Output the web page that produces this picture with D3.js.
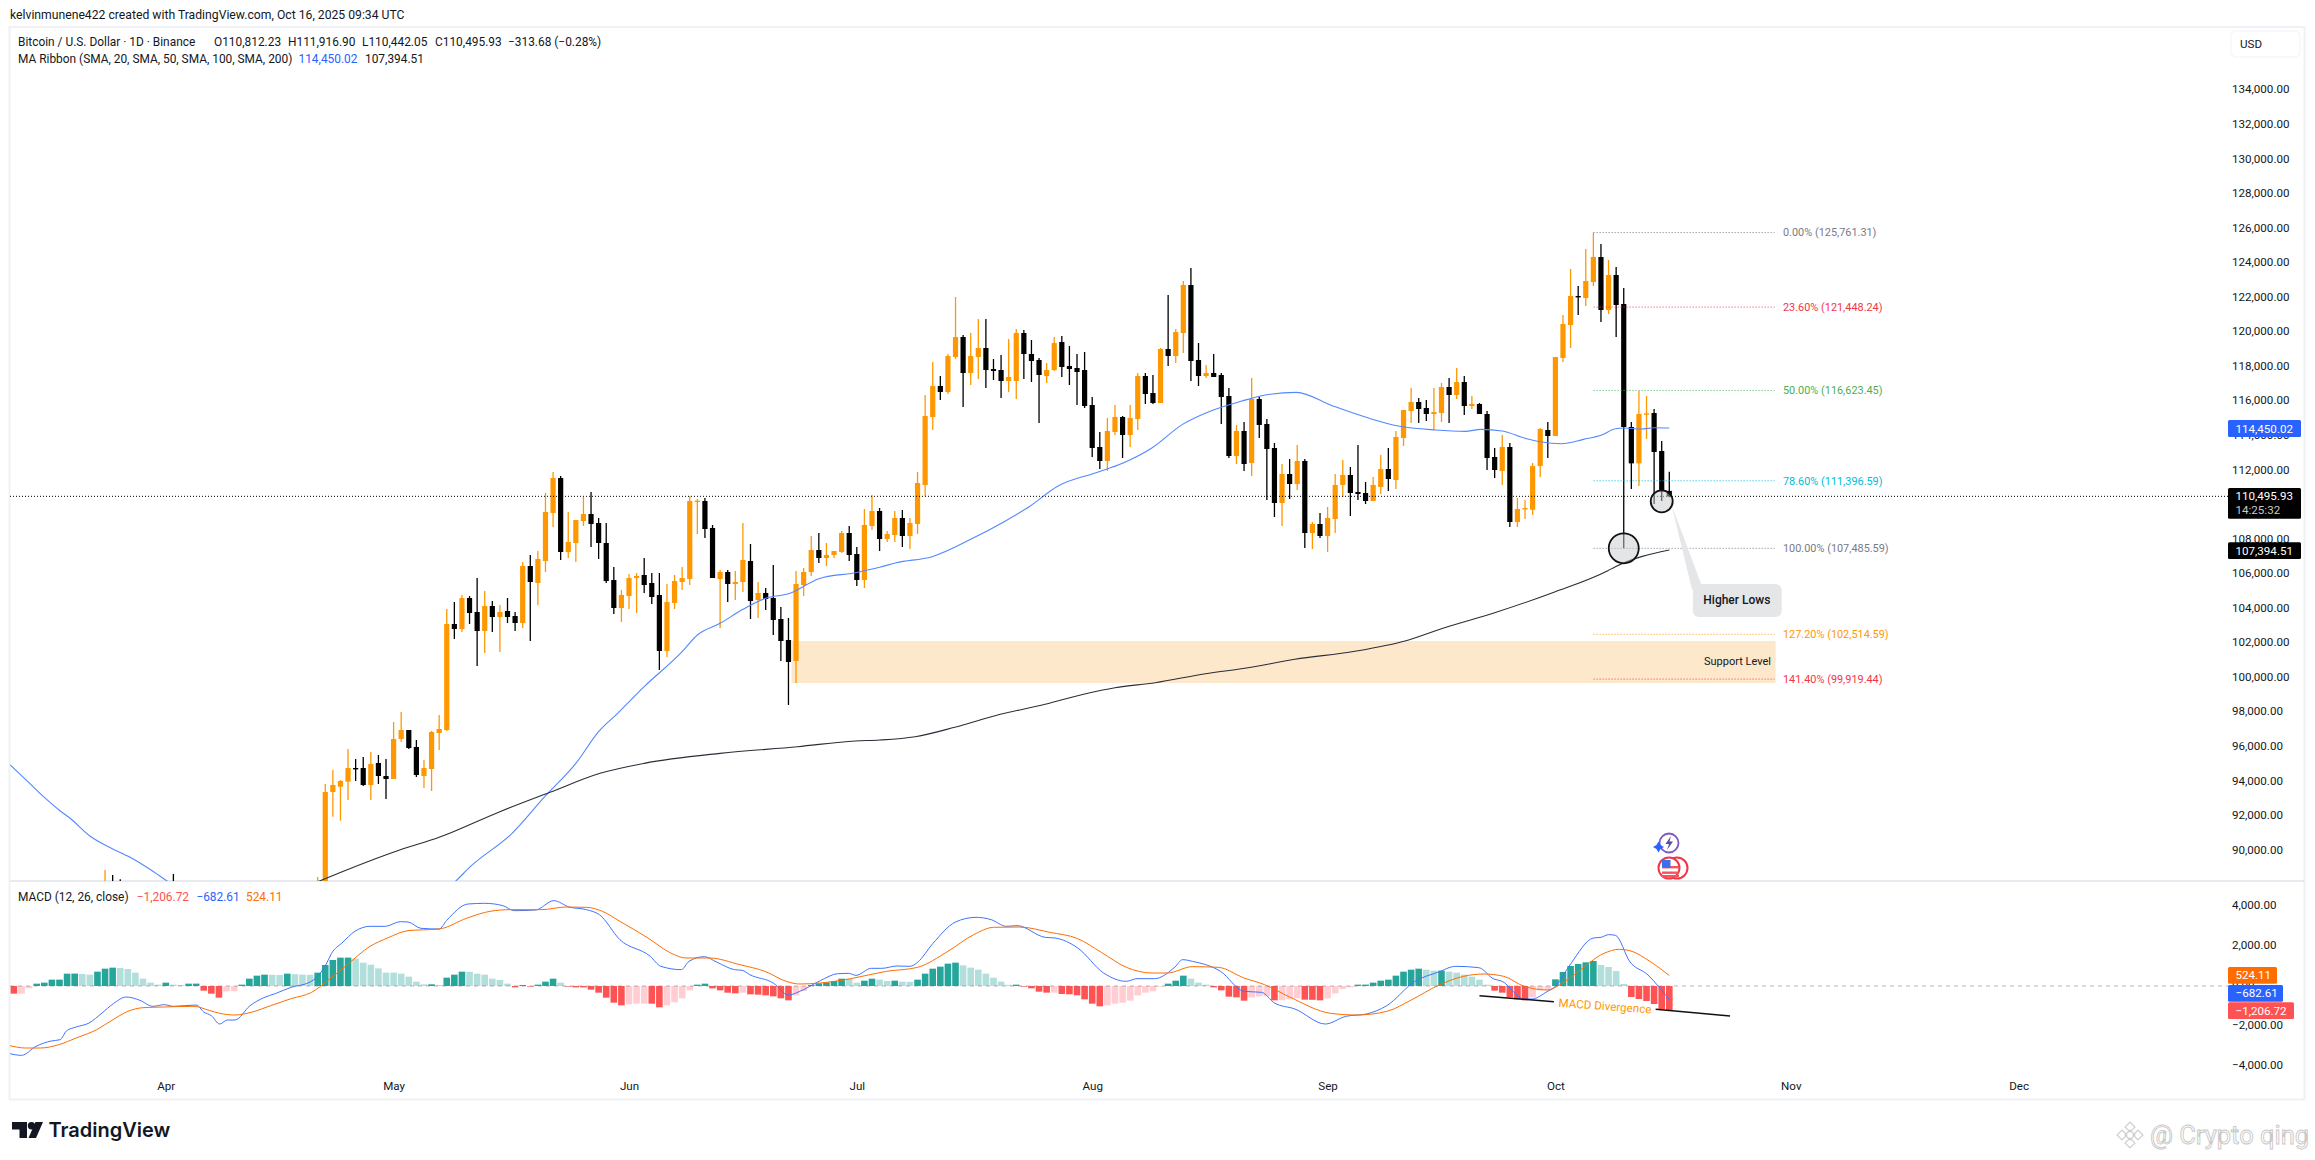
<!DOCTYPE html>
<html>
<head>
<meta charset="utf-8">
<style>
  body { margin: 0; background: #fff; }
  text { font-family: Roboto, sans-serif; fill: #131722; }
</style>
</head>
<body>
<div id="chart"></div>
<script src="https://d3js.org/d3.v7.min.js"></script>
<script>
// Daily candles, 21 Apr to 16 Oct 2025
var candleStart = "2025-04-21";
var opens = [
  85170,87500,93385,93694,93983,94774,94774,93790,95063,94311,
  94137,96452,96973,95989,94311,94716,96800,96973,103108,102818,104612,103802,102702,104149,103512,103860,103570,103165,106464,105480,106753,109531,111556,107274,107795,109068,109473,108952,107795,105654,104033,
  104728,105770,105943,105480,104786,101545,104323,105538,105712,110187,110225,108663,105712,106117,105422,105538,106753,104496,104902,104612,103397,102182,100966,105364,106117,107390,106927,107100,107274,108374,
  107158,105654,108779,109647,108026,108258,109242,108200,108895,111152,115087,116881,116534,118559,119717,117633,118559,119080,117865,117807,117170,117170,119948,118733,118386,117460,117807,119427,118038,117923,117807,
  115781,113351,112541,114219,115087,114045,114971,117460,116476,115897,119022,118617,119948,122726,118386,117460,117633,117518,116302,112830,114277,112425,116128,114682,113293,110110,111788,111209,112541,108374,108895,
  108200,109184,111152,111731,110747,110689,110226,111036,112078,111441,113872,115434,115955,115608,115261,115318,116823,116360,117112,115723,115839,115261,112772,111962,113351,109011,109744,109724,112251,114334,
  113987,118501,120411,122089,121973,122899,124346,121279,123304,121626,114508,112404,115222,115318,113119,110812.23
];
var highs = [
  88470,93848,94658,94079,95874,95295,95411,95700,95526,95295,
  97436,98015,96973,96395,95237,96915,97841,103975,104381,104786,104728,105770,105017,104438,104207,104612,103802,106695,107100,107332,110689,111904,111672,109589,109126,110457,110746,109242,108952,106406,105075,
  106001,106059,106927,106059,106059,105422,105943,106406,110515,110341,110399,108837,106232,106232,106175,108952,107737,105538,105191,106522,104091,103455,106175,106348,108200,108374,107795,107332,108489,108779,
  107563,109763,110573,109821,108489,109647,109705,109242,111904,116360,118270,117460,118733,122031,119832,119948,120758,120758,118443,118675,119601,120180,120122,119543,118501,118212,119717,119774,119196,118733,118848,
  116244,114219,115029,115781,115145,115781,117633,117633,117518,119080,122147,120180,122957,123710,119369,118096,118733,117633,116765,114624,114798,117344,116244,114971,113582,112367,112656,113466,112656,109011,109531,
  109879,111788,112599,112193,113466,111325,111615,112888,113293,114277,115492,116765,116187,116071,116765,117057,117344,117923,117460,116302,115897,115434,113293,114045,113582,110400,110284,112425,114450,114797,
  118559,120989,123651,122668,124809,125761.31,125098,124172,123767,122552,114797,116591,116302,115549,113697,111916.9
];
var lows = [
  85140,87100,91958,91726,92922,94022,93732,92922,93848,92980,
  94137,96279,95873,94254,93617,93443,95816,96915,102240,102644,103108,100677,101429,102644,101487,103165,102702,102876,102124,104207,106117,108721,106811,106927,106695,108779,107563,106869,105480,103686,103223,
  103975,103744,104902,104265,100446,101197,103975,105075,105364,108316,108084,105770,102876,104381,104496,104959,103397,103455,103918,102471,100966,98420,99693,104728,105885,106637,106464,106927,107216,106753,
  105306,105191,108547,107332,107853,107853,107564,107448,108316,110496,114335,116071,116418,118443,115666,116939,117286,116765,117228,116187,116534,116128,117286,117112,114740,117055,117749,117402,116939,115781,115608,
  112772,112078,111962,114045,112714,113351,114335,115839,115839,115897,118038,118212,118791,117170,116881,117344,117402,114682,112714,112367,111962,111673,113872,110284,109300,108779,110342,110862,107506,107448,108085,
  107275,108374,110457,109358,110284,110052,110226,110631,110804,110920,113409,114740,114740,114855,114335,114798,114740,116128,115203,115550,115261,112020,111557,111152,108721,108721,109184,109415,111614,112714,
  113987,118269,119080,120989,121510,122668,120584,121047,119716,107485.59,110920,111093,113813,110052,110226,110442.05
];
var closes = [
  87500,93385,93790,94022,94774,94736,93790,95005,94311,94137,
  96452,96973,95931,94369,94774,96857,97031,103108,102818,104612,103744,102702,104149,103512,103802,103512,103165,106464,105538,106869,109589,111556,107274,107853,109126,109473,108894,107795,105596,104033,104786,
  105770,105885,105364,104670,101545,104381,105596,105770,110225,110245,108605,105770,106117,105422,105538,106811,104438,104902,104554,103339,102124,100908,105422,106117,107390,106927,107100,107332,108374,107100,
  105654,108837,109647,108026,108316,109242,108200,108953,111267,115145,116881,116534,118617,119717,117633,118617,119080,117807,117749,117170,117402,119948,118733,118328,117518,117807,119369,117980,117865,117691,115723,
  113293,112541,114277,115087,114045,115029,117460,116418,115897,119022,118617,120006,122726,118328,117460,117633,117402,116244,112830,114277,112367,116128,114624,113235,110110,111788,111209,112541,108374,108895,108200,
  109242,111152,111731,110689,110631,110226,111152,112078,111499,113930,115492,115955,115550,115261,115376,116823,116360,117112,115723,115839,115261,112714,112020,113351,109011,109763,109821,112251,114392,113987,
  118559,120468,122089,122031,122957,124346,121279,123304,121568,114508,112404,115260,115299,113061,110804,110495.93
];

// The few March/April candles whose wicks just poke into the bottom of the pane
var earlyDates = ["2025-03-24", "2025-03-25", "2025-03-26", "2025-04-02"];
var earlyOpens = [86000, 87300, 87200, 85100];
var earlyHighs = [88871, 88582, 88333, 88640];
var earlyLows = [85500, 86300, 86300, 82300];
var earlyCloses = [87300, 87200, 86900, 82500];

// Moving averages: days counted from 1 Apr, values in USD
var ma50Days = [-20.5,-18.3,-16.1,-13.9,-12.6,-10,-7.3,-4.7,-2.1,0.1,10,20,30,38.1,40.1,45.6,49.9,54,57,59.5,63,68,70,73,76,79,82.2,86,90.8,94,96.2,100.9,106,110.4,113.7,117.5,122.5,126,129.8,133.9,137.7,141.6,144.8,148.9,153.6,158.5,162.3,167.2,171.1,173.2,176,179.2,181,183.8,186.7,189.1,190.9,192,194.3,196,198];
var ma50Values = [94948,94039,93113,92286,91863,90839,90162,89606,88912,88252,85500,84800,86000,88196,89064,90993,93115,95044,96877,97938,99481,101506,102471,103146,103956,104593,104882,105731,106078,106387,106657,107005,108008,109030,109898,111094,111866,112406,113274,114662,115454,115994,116360,116515,115743,115010,114566,114335,114257,114373,114277,113833,113659,113543,113794,114045,114411,114450,114392,114469,114450.02];
var ma200Days = [19.5,22.9,30.8,36,44,50.6,57.2,63,73,83.2,90.8,94,98.7,103.9,109.9,115.8,121,125,130.3,136.9,142.1,148.7,156.6,163.2,168.4,175,182.9,189.9,190.9,198];
var ma200Values = [88100,88715,90029,90762,92247,93366,94466,95044,95623,96008,96337,96395,96586,97130,97882,98460,99057,99421,99711,100231,100544,101065,101528,102124,102894,103762,104959,106192,106424,107394.51];

// Fib levels
var fibLabels = ["0.00%", "23.60%", "50.00%", "78.60%", "100.00%", "127.20%", "141.40%"];
var fibValues = [125761.31, 121448.24, 116623.45, 111396.59, 107485.59, 102514.59, 99919.44];
var fibColors = ["#787b86", "#f23645", "#4caf50", "#00bcd4", "#787b86", "#ff9800", "#f23645"];

// MACD histogram, one bar per day from 12 Mar
var histStart = "2025-03-12";
var histValues = [
  -383,-380,-117,117,167,317,320,617,620,600,567,717,867,917,900,850,667,367,167,67,
  167,67,50,117,120,-233,-383,-583,-267,-260,67,367,517,567,560,550,617,590,570,560,667,1050,1300,1417,1420,1367,1167,1067,883,670,
  667,617,467,217,83,85,50,417,567,717,710,617,567,367,300,117,-67,50,-33,67,217,367,167,-33,-67,-70,-183,-333,-583,-833,-967,
  -917,-883,-880,-883,-1067,-967,-817,-617,-217,67,117,-117,-217,-333,-367,-333,-417,-433,-467,-517,-617,-717,-467,-250,50,133,183,250,367,360,
  167,267,367,317,250,267,217,210,317,617,867,967,1117,1167,1033,917,817,617,417,217,60,67,-33,-117,-283,-333,-330,-400,-417,-467,-667,
  -883,-1017,-967,-883,-833,-733,-467,-333,-267,-33,117,267,517,367,167,67,-67,-217,-533,-567,-733,-567,-517,-510,-717,-715,-667,-617,-683,-690,-717,
  -617,-367,-150,-67,67,70,167,267,317,517,717,817,867,817,767,770,717,667,567,467,317,67,-233,-333,-567,-667,-717,-567,-217,-210,
  333,700,1000,1100,1183,1250,1050,950,750,100,-550,-650,-750,-900,-1167,-1206.72
];
var macdDays = [-20.5,-19,-17.1,-15.1,-13.9,-13.1,-11.8,-10.1,-8.4,-6.9,-5.2,-3.4,-1.7,-0.2,1,4,5,6,7.1,8.1,9.1,11.1,12.9,14.4,16.5,19,20,21.2,21.8,23.2,24.9,26.9,28.9,30.9,31.9,33.6,36,37,39.8,42,44.4,45.9,48.7,51.1,53.1,55.4,57.1,59.8,63.8,65.2,67.9,68.9,70.9,72.6,74.9,75.9,76.9,80,82,83.5,86.2,88.5,89.9,90.9,92.9,94.3,96.3,98,99,101,104,106.7,108.7,110.7,112.1,115.8,117.1,120.1,123.5,126.5,127.9,130.2,132.9,133.9,135.2,138.9,142,144.3,146,148.7,152.7,155.4,158.1,160.8,164.5,167.5,169.9,172.9,174.9,175.9,178.9,179.9,181.9,183,185,188,189,190,190.9,192.8,195.2,196.6,198];
var macdValues = [-3384,-3467,-3017,-2750,-2684,-2250,-2050,-1850,-1350,-883,-550,-717,-1017,-933,-1017,-950,-1300,-1484,-1900,-1700,-1700,-983,-583,-383,-67,200,483,1150,1617,2150,2734,2984,2984,3217,3200,2884,2850,3284,4100,4134,4017,3767,3800,4268,3950,3817,3567,2317,1484,984,817,1234,1467,1184,817,784,567,150,-450,-267,267,617,633,533,884,884,1000,984,1184,2117,3200,3434,3317,2984,3017,2434,2400,1900,650,233,367,367,950,1317,1234,733,-267,-317,-850,-1150,-1900,-1517,-1400,-983,233,683,984,917,350,250,-650,-650,-283,-17,1100,2400,2434,2567,2534,1217,550,-33,-682.61];
var signalDays = [-20.5,-18.5,-16.5,-14.1,-11.8,-9.1,-7.1,-5,-3,-0.3,3.7,5.7,7.1,9.1,11.4,13.8,16.5,19.2,21.2,23.9,26.9,29.2,31.9,36,39.7,42.7,45.4,49.4,52.8,55.4,57.5,59.8,63.5,66.5,68.5,71.6,75.6,79,81.7,83.5,86.2,90.2,94.9,99,103,106.4,109,112.4,116.4,120.1,123.2,126.5,129.9,131.9,135.2,138.6,142,144.7,148,153.4,156.8,160.8,164.1,167.5,170.9,173.6,176.2,178.9,182,183.6,186,189.4,191.4,192.8,195.5,198];
var signalValues = [-2984,-3100,-3100,-2934,-2600,-2184,-1717,-1267,-1084,-1050,-1017,-1217,-1367,-1450,-1300,-983,-633,-317,233,1067,1984,2400,2767,2850,3400,3734,3817,3817,3950,3934,3734,3234,2400,1650,1400,1400,1067,717,233,100,150,367,733,933,1734,2567,2934,2950,2684,2367,1684,933,650,650,967,933,400,67,-550,-1367,-1450,-1267,-683,17,483,600,483,-17,-200,67,717,1634,1834,1767,1217,524.11];

// Axis ticks
var priceTicks = d3.range(90000, 134001, 2000);
var macdTicks = [4000, 2000, 0, -2000, -4000];
var monthTicks = ["2025-04-01", "2025-05-01", "2025-06-01", "2025-07-01", "2025-08-01", "2025-09-01", "2025-10-01", "2025-11-01", "2025-12-01"];

var orange = "#ff9800";
var blue = "#2962ff";
var macdOrange = "#ff6d00";
var macdRed = "#ff5252";

var svgWidth = 2315;
var svgHeight = 1160;
var axisLeftEdge = 2228;
var paneLeft = 10;
var paneTop = 27;
var paneSplit = 881;
var paneBottom = 1068;

var parseDay = d3.utcParse("%Y-%m-%d");
var apr1 = parseDay("2025-04-01");

// Scales
var xScale = d3.scaleUtc()
  .domain([apr1, parseDay("2025-10-16")])
  .range([165.8, 1669.3]);
var yPrice = d3.scaleLinear()
  .domain([100000, 134000])
  .range([677.7, 90.2]);
var yMacd = d3.scaleLinear()
  .domain([0, 4000])
  .range([986, 906]);

// x position of a (possibly fractional) day count from 1 Apr
function dayX(d) {
  return xScale(new Date(apr1.getTime() + d * 864e5));
}

var fmtPrice = d3.format(",.2f");
function money(v) {
  return fmtPrice(v).replace("-", "\u2212");
}

var svg = d3.select("#chart")
  .append("svg")
  .attr("width", svgWidth)
  .attr("height", svgHeight);

var defs = svg.append("defs");
defs.append("clipPath").attr("id", "clipMain").append("rect")
  .attr("x", paneLeft).attr("y", paneTop)
  .attr("width", axisLeftEdge - paneLeft).attr("height", paneSplit - paneTop);
defs.append("clipPath").attr("id", "clipMacd").append("rect")
  .attr("x", paneLeft).attr("y", paneSplit)
  .attr("width", axisLeftEdge - paneLeft).attr("height", paneBottom - paneSplit);

// Frame
svg.append("rect")
  .attr("x", 9.5).attr("y", 27)
  .attr("width", 2295).attr("height", 1072.5)
  .attr("fill", "#fff").attr("stroke", "#f0f1f4").attr("stroke-width", 2);
svg.append("line")
  .attr("x1", paneLeft).attr("x2", 2304)
  .attr("y1", paneSplit).attr("y2", paneSplit)
  .attr("stroke", "#e0e3eb").attr("stroke-width", 1.5);

// Top note
svg.append("text").attr("x", 10).attr("y", 19).attr("font-size", 12.2)
  .text("kelvinmunene422 created with TradingView.com, Oct 16, 2025 09:34 UTC");

var main = svg.append("g").attr("clip-path", "url(#clipMain)");

// Support zone
main.append("rect")
  .attr("x", dayX(82.4))
  .attr("width", dayX(212.0) - dayX(82.4))
  .attr("y", yPrice(102124))
  .attr("height", yPrice(99693) - yPrice(102124))
  .attr("fill", "#fde8cc");

// Fib levels
var fibG = svg.append("g");
fibValues.forEach(function(v, i) {
  fibG.append("line")
    .attr("x1", 1593.6).attr("x2", 1774.4)
    .attr("y1", yPrice(v)).attr("y2", yPrice(v))
    .attr("stroke", fibColors[i])
    .attr("stroke-dasharray", "1 2");
  fibG.append("text")
    .attr("x", 1783).attr("y", yPrice(v)).attr("dy", "0.35em")
    .attr("font-size", 10.9)
    .style("fill", fibColors[i])
    .text(fibLabels[i] + " (" + fmtPrice(v) + ")");
});

// Last price line
var lastClose = closes[closes.length - 1];
svg.append("line")
  .attr("x1", paneLeft).attr("x2", axisLeftEdge)
  .attr("y1", yPrice(lastClose)).attr("y2", yPrice(lastClose))
  .attr("stroke", "#000").attr("stroke-dasharray", "1 2");

// Candles
var candles = opens.map(function(o, i) {
  return {
    date: d3.utcDay.offset(parseDay(candleStart), i),
    open: o, high: highs[i], low: lows[i], close: closes[i]
  };
});
var earlyCandles = earlyDates.map(function(d, i) {
  return {
    date: parseDay(d),
    open: earlyOpens[i], high: earlyHighs[i], low: earlyLows[i], close: earlyCloses[i]
  };
});
var allCandles = earlyCandles.concat(candles);

function candleColor(d) {
  return d.close >= d.open ? orange : "#000";
}

main.selectAll(".wick")
  .data(allCandles)
  .enter()
  .append("line")
  .attr("class", "wick")
  .attr("x1", d => xScale(d.date))
  .attr("x2", d => xScale(d.date))
  .attr("y1", d => yPrice(d.high))
  .attr("y2", d => yPrice(d.low))
  .attr("stroke", candleColor)
  .attr("stroke-width", 1.3);

main.selectAll(".body")
  .data(allCandles)
  .enter()
  .append("rect")
  .attr("class", "body")
  .attr("x", d => xScale(d.date) - 2.6)
  .attr("width", 5.2)
  .attr("y", d => yPrice(Math.max(d.open, d.close)))
  .attr("height", d => Math.max(1.4, Math.abs(yPrice(d.open) - yPrice(d.close))))
  .attr("fill", candleColor);

// Moving averages
function pairLine(yScale) {
  return d3.line()
    .x(d => dayX(d[0]))
    .y(d => yScale(d[1]))
    .curve(d3.curveMonotoneX);
}

main.append("path")
  .attr("d", pairLine(yPrice)(d3.zip(ma50Days, ma50Values)))
  .attr("fill", "none").attr("stroke", "#5487ff").attr("stroke-width", 1.1);
main.append("path")
  .attr("d", pairLine(yPrice)(d3.zip(ma200Days, ma200Values)))
  .attr("fill", "none").attr("stroke", "#2a2e39").attr("stroke-width", 1.1);

// Annotations, placed in chart values
var bigCircle = { day: 192, price: 107488, r: 15 };
var smallCircle = { day: 197, price: 110208, r: 11 };

svg.append("path")
  .attr("d", d3.line()([
    [dayX(198.3), yPrice(109994)],
    [dayX(202.2), yPrice(105422)],
    [dayX(201), yPrice(105075)]
  ]) + "Z")
  .attr("fill", "#e4e6e8");

[bigCircle, smallCircle].forEach(function(c) {
  svg.append("circle")
    .attr("cx", dayX(c.day))
    .attr("cy", yPrice(c.price))
    .attr("r", c.r)
    .attr("fill", "#c8ccd0")
    .attr("fill-opacity", 0.5)
    .attr("stroke", "#111")
    .attr("stroke-width", 1.8);
});

svg.append("rect")
  .attr("x", dayX(201.1))
  .attr("width", dayX(212.8) - dayX(201.1))
  .attr("y", yPrice(105422))
  .attr("height", yPrice(103513) - yPrice(105422))
  .attr("rx", 6)
  .attr("fill", "#e4e6e8");
svg.append("text")
  .attr("x", dayX(206.9)).attr("y", yPrice(104480)).attr("dy", "0.35em")
  .attr("text-anchor", "middle").attr("font-size", 12).attr("font-weight", 500)
  .text("Higher Lows");

svg.append("text")
  .attr("x", 1771).attr("y", 661).attr("dy", "0.35em")
  .attr("text-anchor", "end").attr("font-size", 11)
  .text("Support Level");

// Event icons above the pane split
var icons = svg.append("g");
icons.append("circle").attr("cx", 1669).attr("cy", 843).attr("r", 9.5)
  .attr("fill", "#fff").attr("stroke", "#7e57c2").attr("stroke-width", 1.8);
icons.append("path").attr("d", "M1671,836 L1665.5,844 L1669,844 L1667,850 L1673,841.5 L1669.5,841.5 Z")
  .attr("fill", "#5c4a9a");
icons.append("path").attr("d", "M1658.5,841.5 L1660.5,845 L1664,847 L1660.5,849 L1658.5,852.5 L1656.5,849 L1653,847 L1656.5,845 Z")
  .attr("fill", "#2962ff");
icons.append("circle").attr("cx", 1677).attr("cy", 868).attr("r", 10.5)
  .attr("fill", "#fff").attr("stroke", "#f23645").attr("stroke-width", 2);
icons.append("circle").attr("cx", 1669).attr("cy", 868).attr("r", 10.5)
  .attr("fill", "#fff").attr("stroke", "#f23645").attr("stroke-width", 2);
icons.selectAll(".stripe").data([866, 871.5, 875])
  .enter().append("rect").attr("class", "stripe")
  .attr("x", 1662).attr("y", d => d).attr("width", 17).attr("height", 2.4)
  .attr("fill", "#f2555f");
icons.append("rect").attr("x", 1662).attr("y", 860).attr("width", 8.5).attr("height", 8)
  .attr("fill", "#3f6fe8");

// Legends
var legendFont = 11.9;
svg.append("text").attr("x", 18).attr("y", 46).attr("font-size", legendFont)
  .text("Bitcoin / U.S. Dollar \u00b7 1D \u00b7 Binance");
var ohlcLegend = ["O110,812.23", "H111,916.90", "L110,442.05", "C110,495.93", "\u2212313.68 (\u22120.28%)"];
var ohlcLegendX = [214, 288, 362, 435, 508];
ohlcLegend.forEach(function(t, i) {
  svg.append("text").attr("x", ohlcLegendX[i]).attr("y", 46).attr("font-size", legendFont).text(t);
});
svg.append("text").attr("x", 18).attr("y", 63).attr("font-size", legendFont)
  .text("MA Ribbon (SMA, 20, SMA, 50, SMA, 100, SMA, 200)");
svg.append("text").attr("x", 298.5).attr("y", 63).attr("font-size", legendFont)
  .style("fill", blue).text("114,450.02");
svg.append("text").attr("x", 365).attr("y", 63).attr("font-size", legendFont)
  .text("107,394.51");

svg.append("text").attr("x", 18).attr("y", 900.5).attr("font-size", legendFont)
  .text("MACD (12, 26, close)");
svg.append("text").attr("x", 136.7).attr("y", 900.5).attr("font-size", legendFont)
  .style("fill", macdRed).text("\u22121,206.72");
svg.append("text").attr("x", 196.4).attr("y", 900.5).attr("font-size", legendFont)
  .style("fill", blue).text("\u2212682.61");
svg.append("text").attr("x", 246).attr("y", 900.5).attr("font-size", legendFont)
  .style("fill", macdOrange).text("524.11");

// MACD pane
var macdPane = svg.append("g").attr("clip-path", "url(#clipMacd)");

macdPane.selectAll(".hist")
  .data(histValues)
  .enter()
  .append("rect")
  .attr("class", "hist")
  .attr("x", (d, i) => xScale(d3.utcDay.offset(parseDay(histStart), i)) - 3.3)
  .attr("width", 6.6)
  .attr("y", d => Math.min(yMacd(d), yMacd(0)))
  .attr("height", d => Math.abs(yMacd(d) - yMacd(0)))
  .attr("fill", function(d, i) {
    var prev = i > 0 ? histValues[i - 1] : d + 1;
    if (d >= 0) return d >= prev ? "#26a69a" : "#b2dfdb";
    return d < prev ? "#ff5252" : "#ffcdd2";
  });

svg.append("line")
  .attr("x1", paneLeft).attr("x2", axisLeftEdge)
  .attr("y1", yMacd(0)).attr("y2", yMacd(0))
  .attr("stroke", "#787b86").attr("stroke-opacity", 0.55)
  .attr("stroke-dasharray", "4 4");

macdPane.append("path")
  .attr("d", pairLine(yMacd)(d3.zip(macdDays, macdValues)))
  .attr("fill", "none").attr("stroke", "#3f74ff").attr("stroke-width", 1);
macdPane.append("path")
  .attr("d", pairLine(yMacd)(d3.zip(signalDays, signalValues)))
  .attr("fill", "none").attr("stroke", macdOrange).attr("stroke-width", 1);

// Divergence trend line, broken around its label
var trendSegments = [
  [[173, -485], [182.8, -785]],
  [[196.2, -1165], [206, -1500]]
];
trendSegments.forEach(function(s) {
  svg.append("line")
    .attr("x1", dayX(s[0][0])).attr("y1", yMacd(s[0][1]))
    .attr("x2", dayX(s[1][0])).attr("y2", yMacd(s[1][1]))
    .attr("stroke", "#111").attr("stroke-width", 1.4);
});
svg.append("text")
  .attr("transform", "translate(1605,1006) rotate(4.2)")
  .attr("dy", "0.35em").attr("text-anchor", "middle").attr("font-size", 11.6)
  .style("fill", orange)
  .text("MACD Divergence");

// Axes
var priceAxis = d3.axisRight(yPrice)
  .tickValues(priceTicks)
  .tickFormat(fmtPrice)
  .tickSize(0);
var gPrice = svg.append("g")
  .attr("transform", "translate(2229,-1)")
  .call(priceAxis);
var macdAxis = d3.axisRight(yMacd)
  .tickValues(macdTicks)
  .tickFormat(money)
  .tickSize(0);
var gMacd = svg.append("g")
  .attr("transform", "translate(2229,-1)")
  .call(macdAxis);
var timeAxis = d3.axisBottom(xScale)
  .tickValues(monthTicks.map(parseDay))
  .tickFormat(d3.utcFormat("%b"))
  .tickSize(0);
var gTime = svg.append("g")
  .attr("transform", "translate(0,1078.5)")
  .call(timeAxis);
[gPrice, gMacd, gTime].forEach(function(g) {
  g.select(".domain").remove();
  g.selectAll("text")
    .attr("font-family", "Roboto, sans-serif")
    .attr("font-size", 11.6)
    .style("fill", "#131722");
});

// USD box
svg.append("rect")
  .attr("x", 2231).attr("y", 31).attr("width", 69).attr("height", 26).attr("rx", 5)
  .attr("fill", "#fff").attr("stroke", "#f0f3fa");
svg.append("text").attr("x", 2240).attr("y", 44).attr("dy", "0.35em").attr("font-size", 11.6).text("USD");

// Price tags on the axis
var tags = [
  { text: fmtPrice(114450.02), fill: blue, color: "#fff", y0: 420, y1: 437, w: 73 },
  { text: fmtPrice(lastClose), fill: "#000", color: "#fff", y0: 488, y1: 518.7, w: 73, sub: "14:25:32", single: 496 },
  { text: fmtPrice(107394.51), fill: "#000", color: "#fff", y0: 542.3, y1: 559, w: 73 },
  { text: "524.11", fill: macdOrange, color: "#fff", y0: 967, y1: 983.7, w: 49 },
  { text: money(-682.61), fill: blue, color: "#fff", y0: 985, y1: 1001.7, w: 55 },
  { text: money(-1206.72), fill: macdRed, color: "#fff", y0: 1002.3, y1: 1019, w: 66 }
];
tags.forEach(function(t) {
  svg.append("rect")
    .attr("x", axisLeftEdge).attr("y", t.y0)
    .attr("width", t.w).attr("height", t.y1 - t.y0)
    .attr("rx", 1.5)
    .attr("fill", t.fill);
  svg.append("text")
    .attr("x", 2235.5).attr("y", t.single || (t.y0 + t.y1) / 2).attr("dy", "0.35em")
    .attr("font-size", 11.6).style("fill", t.color)
    .text(t.text);
  if (t.sub) {
    svg.append("text")
      .attr("x", 2235.5).attr("y", t.y1 - 9).attr("dy", "0.35em")
      .attr("font-size", 11.6).style("fill", "#c9c9c9")
      .text(t.sub);
  }
});

// TradingView logo
var logo = svg.append("g").attr("fill", "#131722");
logo.append("path").attr("d", "M12,1122 H27 V1138 H19.5 V1129.5 H12 Z");
logo.append("circle").attr("cx", 31.5).attr("cy", 1125.7).attr("r", 3.7);
logo.append("path").attr("d", "M35.5,1122 H43 L36,1138 H28.5 Z");
svg.append("text")
  .attr("x", 48.5).attr("y", 1137)
  .attr("font-size", 20)
  .attr("font-weight", 600)
  .style("font-family", "Inter, sans-serif")
  .text("TradingView");

// Watermark
var mark = svg.append("g").attr("fill", "none").attr("stroke", "#cfcfcf").attr("stroke-width", 1.2);
[[2130, 1127], [2122, 1135], [2138, 1135], [2130, 1143], [2130, 1135]].forEach(function(p) {
  mark.append("rect")
    .attr("x", p[0] - 3.5).attr("y", p[1] - 3.5)
    .attr("width", 7).attr("height", 7)
    .attr("transform", "rotate(45 " + p[0] + " " + p[1] + ")");
});
svg.append("text")
  .attr("x", 2150).attr("y", 1144)
  .attr("font-size", 25.5)
  .style("fill", "#fff").style("stroke", "#c8c8c8").style("stroke-width", 0.9)
  .text("@ Crypto qing");
</script>
</body>
</html>
